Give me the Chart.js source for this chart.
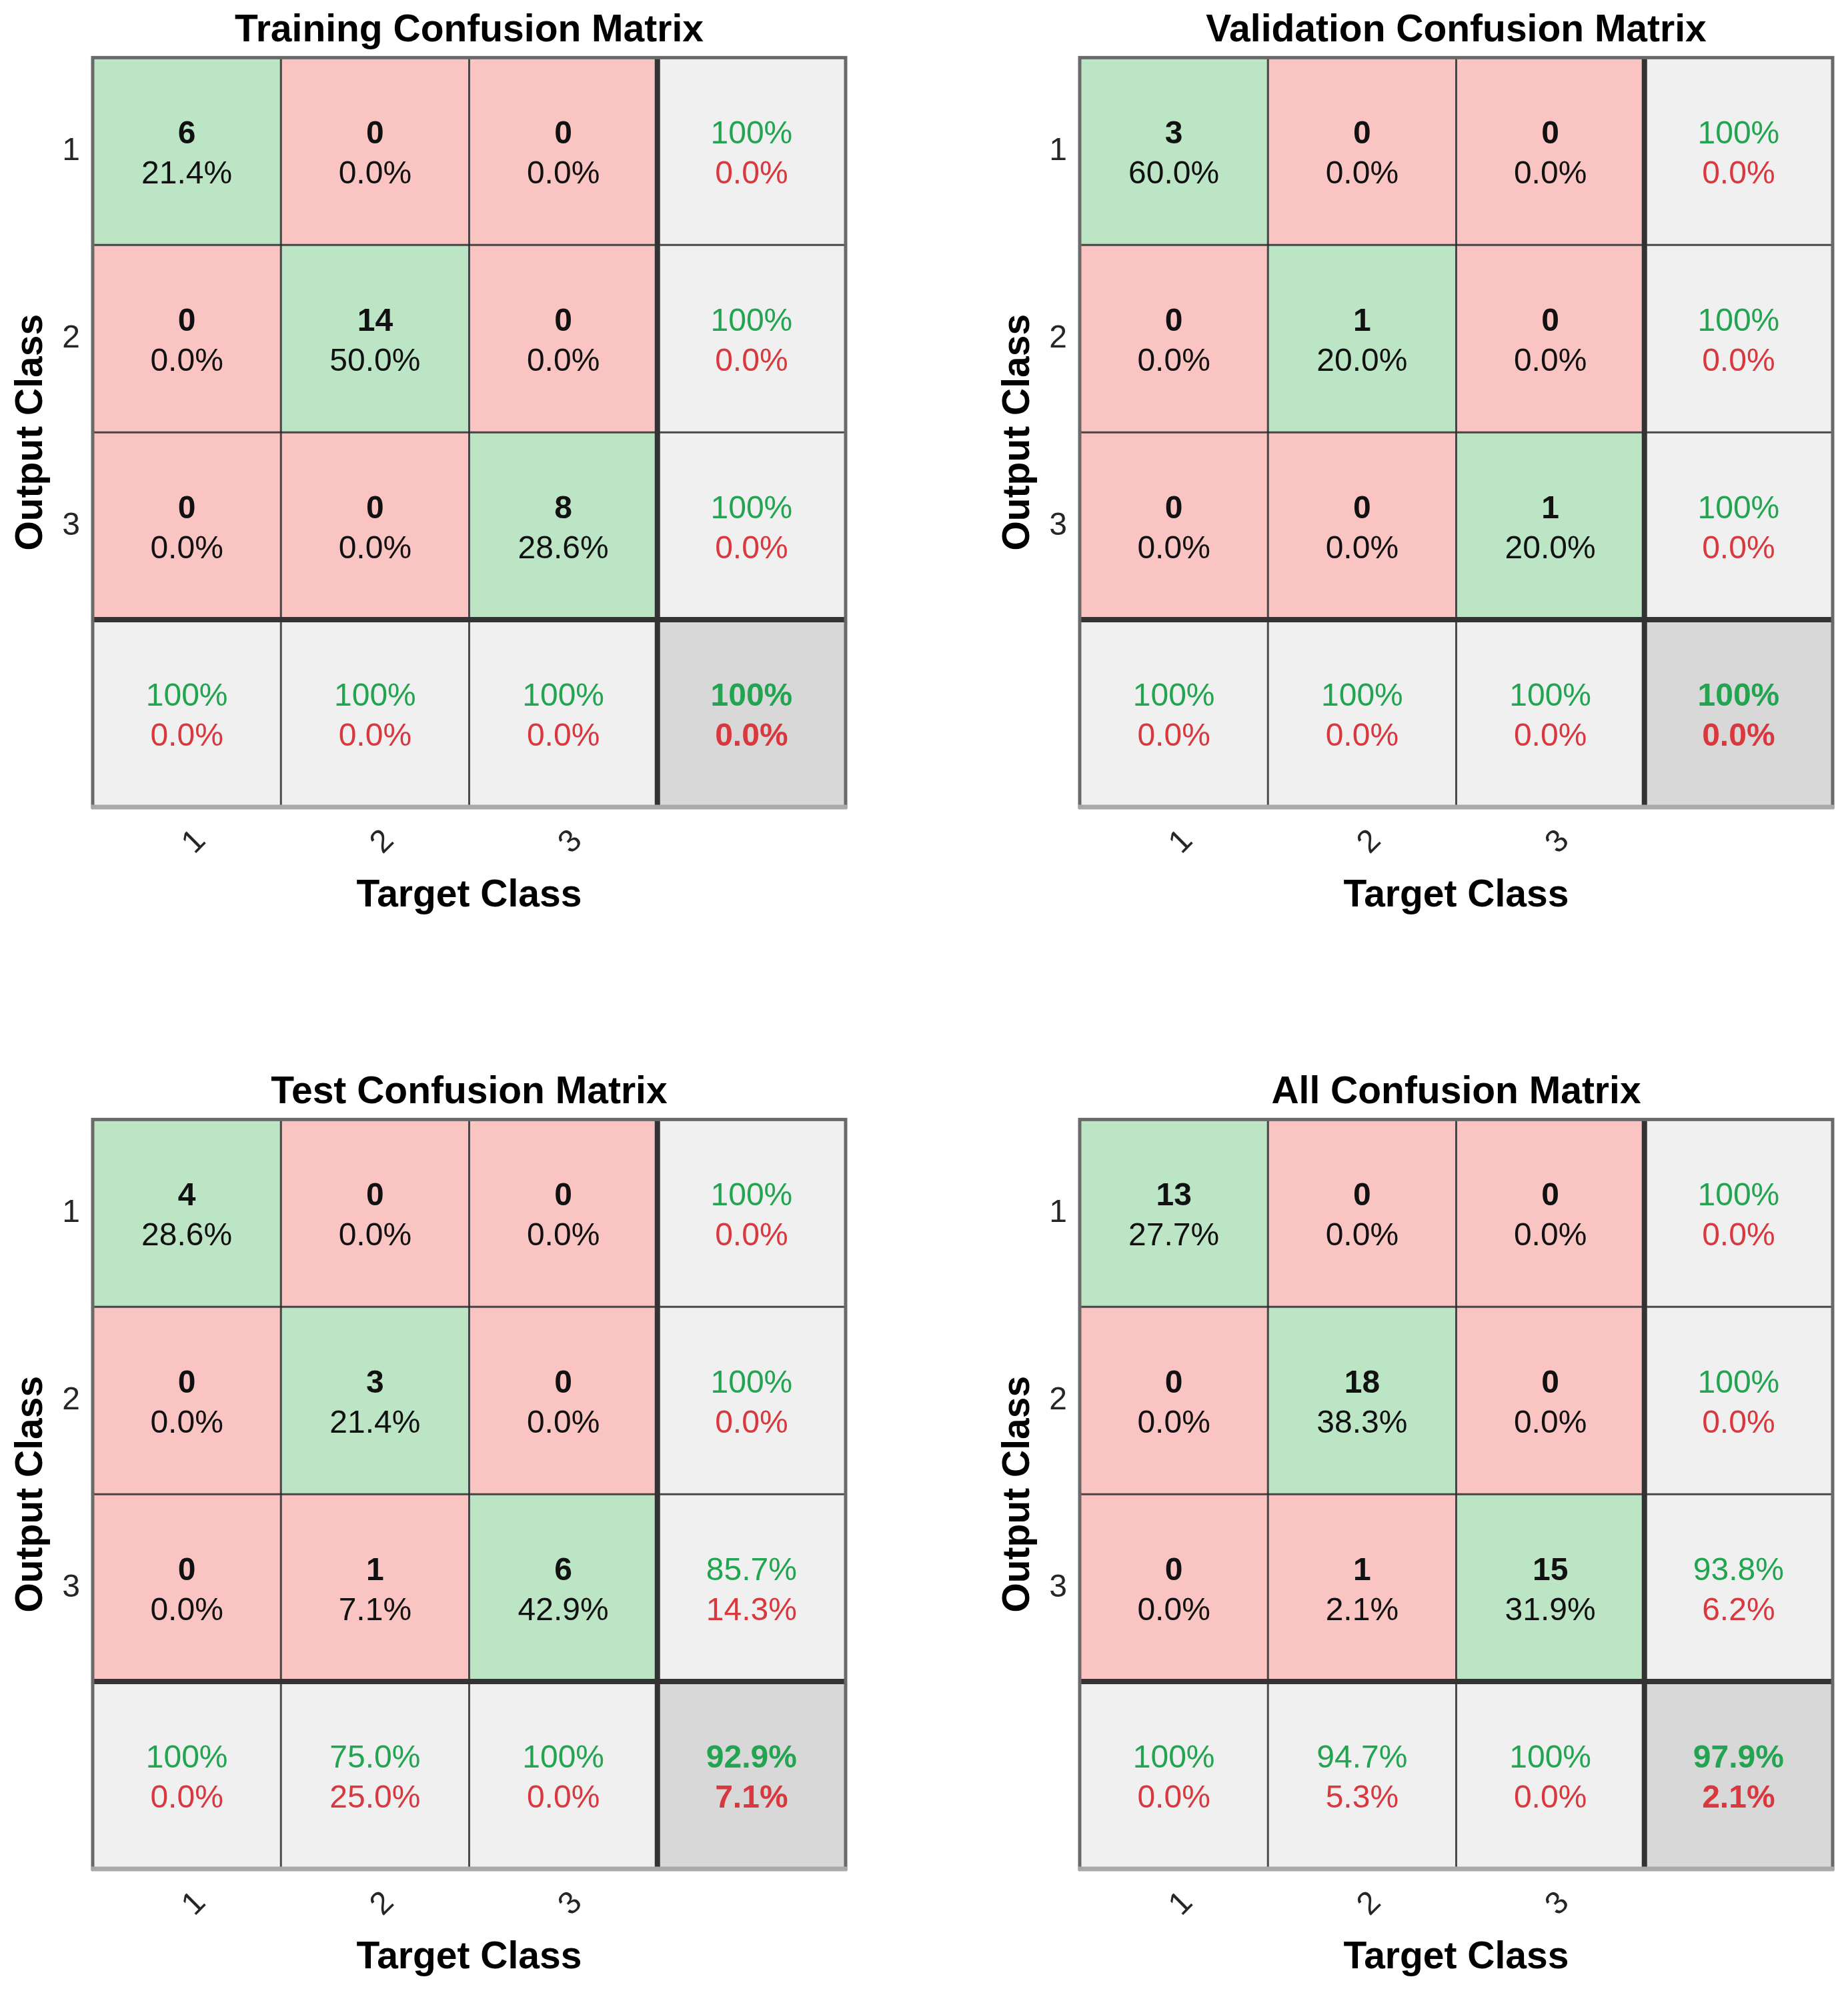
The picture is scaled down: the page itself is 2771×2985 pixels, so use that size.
<!DOCTYPE html>
<html>
<head>
<meta charset="utf-8">
<script src="https://cdn.jsdelivr.net/npm/chart.js@4.4.1/dist/chart.umd.min.js"></script>
<style>
    html, body { margin: 0; padding: 0; background: #fff; overflow: hidden; }
    #page { position: relative; width: 2771px; height: 2985px; }
    .panel { position: absolute; }
</style>
</head>
<body>
<div id="page">
    <canvas id="training" class="panel" width="1290" height="1390" style="left:0;top:0"></canvas>
    <canvas id="validation" class="panel" width="1290" height="1390" style="left:1480px;top:0"></canvas>
    <canvas id="test" class="panel" width="1290" height="1390" style="left:0;top:1592px"></canvas>
    <canvas id="all" class="panel" width="1290" height="1390" style="left:1480px;top:1592px"></canvas>
</div>
<script>
const targetClasses = ['1', '2', '3'];
const outputClasses = ['1', '2', '3'];

// rows = output class, cols = target class
const trainingCounts = [[6, 0, 0], [0, 14, 0], [0, 0, 8]];
const trainingShares = [[21.4, 0, 0], [0, 50.0, 0], [0, 0, 28.6]];
const trainingRowStats = [[100, 0], [100, 0], [100, 0]];
const trainingColStats = [[100, 0], [100, 0], [100, 0]];
const trainingTotal = [100, 0];

const validationCounts = [[3, 0, 0], [0, 1, 0], [0, 0, 1]];
const validationShares = [[60.0, 0, 0], [0, 20.0, 0], [0, 0, 20.0]];
const validationRowStats = [[100, 0], [100, 0], [100, 0]];
const validationColStats = [[100, 0], [100, 0], [100, 0]];
const validationTotal = [100, 0];

const testCounts = [[4, 0, 0], [0, 3, 0], [0, 1, 6]];
const testShares = [[28.6, 0, 0], [0, 21.4, 0], [0, 7.1, 42.9]];
const testRowStats = [[100, 0], [100, 0], [85.7, 14.3]];
const testColStats = [[100, 0], [75.0, 25.0], [100, 0]];
const testTotal = [92.9, 7.1];

const allCounts = [[13, 0, 0], [0, 18, 0], [0, 1, 15]];
const allShares = [[27.7, 0, 0], [0, 38.3, 0], [0, 2.1, 31.9]];
const allRowStats = [[100, 0], [100, 0], [93.8, 6.2]];
const allColStats = [[100, 0], [94.7, 5.3], [100, 0]];
const allTotal = [97.9, 2.1];

const FONT = "'Liberation Sans', Arial, Helvetica, sans-serif";
const GREEN_CELL = 'rgb(188,229,198)';
const RED_CELL = 'rgb(249,196,193)';
const GRAY_CELL = 'rgb(240,240,240)';
const DARK_CELL = 'rgb(216,216,216)';
const GREEN_TEXT = 'rgb(34,164,80)';
const RED_TEXT = 'rgb(216,56,62)';

const fmt = v => v === 100 ? '100%' : v.toFixed(1) + '%';

function overlay(p) {
    return {
        id: 'matrixOverlay',
        afterDatasetsDraw(chart) {
            const {ctx, chartArea, scales: {x, y}} = chart;
            const {left, right, top, bottom} = chartArea;
            const n = targetClasses.length;

            ctx.save();
            ctx.textAlign = 'center';
            ctx.textBaseline = 'middle';

            chart.data.datasets.forEach((ds, r) => {
                chart.getDatasetMeta(r).data.forEach((bar, c) => {
                    const cx = bar.x;
                    const cy = (bar.y + bar.base) / 2;
                    let lines;
                    if (r < n && c < n) {
                        lines = [
                            {t: String(p.counts[r][c]), color: '#111', bold: true},
                            {t: fmt(p.shares[r][c]), color: '#111', bold: false}
                        ];
                    } else {
                        let s, bold = false;
                        if (r < n) s = p.rowStats[r];
                        else if (c < n) s = p.colStats[c];
                        else { s = p.total; bold = true; }
                        lines = [
                            {t: fmt(s[0]), color: GREEN_TEXT, bold},
                            {t: fmt(s[1]), color: RED_TEXT, bold}
                        ];
                    }
                    lines.forEach((l, i) => {
                        ctx.font = (l.bold ? 'bold ' : '') + '48px ' + FONT;
                        ctx.fillStyle = l.color;
                        ctx.fillText(l.t, cx, cy + (i === 0 ? -25 : 35));
                    });
                });
            });

            const seg = (x1, y1, x2, y2) => {
                ctx.beginPath();
                ctx.moveTo(x1, y1);
                ctx.lineTo(x2, y2);
                ctx.stroke();
            };

            ctx.strokeStyle = 'rgba(45,45,45,0.85)';
            ctx.lineWidth = 3;
            for (let c = 1; c < n; c++) {
                const px = x.getPixelForValue(c - 0.5);
                seg(px, top, px, bottom);
            }
            for (let r = 1; r < n; r++) {
                const py = y.getPixelForValue(r);
                seg(left, py, right, py);
            }

            ctx.strokeStyle = '#333';
            ctx.lineWidth = 8;
            const sx = x.getPixelForValue(n - 0.5);
            const sy = y.getPixelForValue(n);
            seg(sx, top, sx, bottom);
            seg(left, sy, right, sy);

            ctx.strokeStyle = '#6a6a6a';
            ctx.lineWidth = 5;
            ctx.strokeRect(left, top, right - left, bottom - top);
            ctx.strokeStyle = '#a9a9a9';
            ctx.lineWidth = 7;
            seg(left - 2, bottom, right + 2, bottom);

            ctx.restore();
        }
    };
}

function buildChart(id, p) {
    const n = targetClasses.length;
    const cellColor = (r, c) => {
        if (r < n && c < n) return r === c ? GREEN_CELL : RED_CELL;
        return (r === n && c === n) ? DARK_CELL : GRAY_CELL;
    };
    const cols = [...targetClasses, ''];
    const rows = [...outputClasses, ''];

    return new Chart(document.getElementById(id), {
        type: 'bar',
        data: {
            labels: cols,
            datasets: rows.map((_, r) => ({
                data: cols.map(() => [r, r + 1]),
                backgroundColor: cols.map((_, c) => cellColor(r, c)),
                borderWidth: 0,
                barPercentage: 1,
                categoryPercentage: 1,
                grouped: false
            }))
        },
        options: {
            responsive: false,
            devicePixelRatio: 1,
            animation: false,
            events: [],
            layout: {padding: {top: 0, left: 0, right: 22, bottom: 0}},
            plugins: {
                legend: {display: false},
                tooltip: {enabled: false},
                title: {
                    display: true,
                    text: p.title,
                    color: '#000',
                    fullSize: false,
                    font: {family: FONT, size: 57, weight: 'bold', lineHeight: 1.2},
                    padding: {top: 12, bottom: 6}
                }
            },
            scales: {
                x: {
                    grid: {display: false, drawTicks: false},
                    border: {display: false},
                    ticks: {
                        color: '#262626',
                        font: {family: FONT, size: 48},
                        minRotation: 45,
                        maxRotation: 45,
                        autoSkip: false,
                        padding: 23,
                        labelOffset: 21
                    },
                    title: {
                        display: true,
                        text: 'Target Class',
                        color: '#000',
                        font: {family: FONT, size: 57, weight: 'bold', lineHeight: 1.2},
                        padding: {top: 0, bottom: 13}
                    },
                    afterFit: s => { s.height = 180; }
                },
                y: {
                    type: 'linear',
                    min: 0,
                    max: rows.length,
                    reverse: true,
                    grid: {display: false, drawTicks: false},
                    border: {display: false},
                    afterBuildTicks: s => {
                        s.ticks = outputClasses.map((_, i) => ({value: i + 0.5}));
                    },
                    ticks: {
                        color: '#262626',
                        font: {family: FONT, size: 48},
                        padding: 19,
                        callback: (v, i) => outputClasses[i]
                    },
                    title: {
                        display: true,
                        text: 'Output Class',
                        color: '#000',
                        font: {family: FONT, size: 57, weight: 'bold', lineHeight: 1.2},
                        padding: {top: 13, bottom: 0}
                    },
                    afterFit: s => { s.width = 139; }
                }
            }
        },
        plugins: [overlay(p)]
    });
}

buildChart('training', {
    title: 'Training Confusion Matrix',
    counts: trainingCounts, shares: trainingShares,
    rowStats: trainingRowStats, colStats: trainingColStats, total: trainingTotal
});
buildChart('validation', {
    title: 'Validation Confusion Matrix',
    counts: validationCounts, shares: validationShares,
    rowStats: validationRowStats, colStats: validationColStats, total: validationTotal
});
buildChart('test', {
    title: 'Test Confusion Matrix',
    counts: testCounts, shares: testShares,
    rowStats: testRowStats, colStats: testColStats, total: testTotal
});
buildChart('all', {
    title: 'All Confusion Matrix',
    counts: allCounts, shares: allShares,
    rowStats: allRowStats, colStats: allColStats, total: allTotal
});
</script>
</body>
</html>
